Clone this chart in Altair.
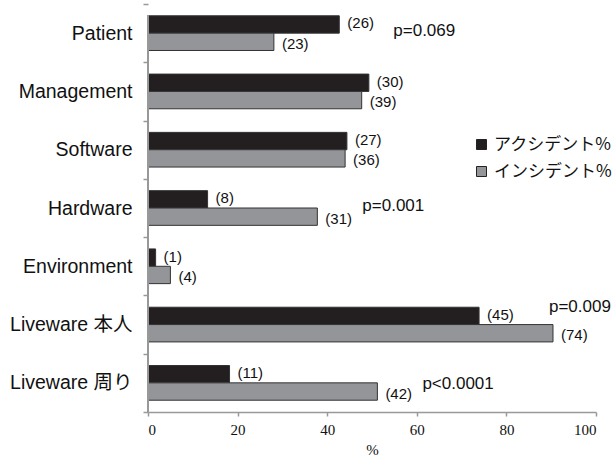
import altair as alt
import pandas as pd

categories = ["Patient", "Management", "Software", "Hardware", "Environment",
              "Liveware 本人", "Liveware 周り"]
series = ["アクシデント%", "インシデント%"]
accident_pct = [42.7, 49.3, 44.4, 13.3, 1.7, 73.9, 18.2]
incident_pct = [28.1, 47.7, 44.0, 37.8, 5.0, 90.4, 51.2]
accident_n = [26, 30, 27, 8, 1, 45, 11]
incident_n = [23, 39, 36, 31, 4, 74, 42]
p_cats = ["Patient", "Hardware", "Liveware 本人", "Liveware 周り"]
p_texts = ["p=0.069", "p=0.001", "p=0.009", "p<0.0001"]

# layout (pixel offsets of p-value annotations), kept apart from data
p_offsets = [(54, -2), (45, -2), (-4, -18), (45, 1)]

rows = []
for c, a, i, na, ni in zip(categories, accident_pct, incident_pct, accident_n, incident_n):
    rows.append({"cat": c, "series": series[0], "pct": a, "lab": f"({na})"})
    rows.append({"cat": c, "series": series[1], "pct": i, "lab": f"({ni})"})
df = pd.DataFrame(rows)

pdf = pd.DataFrame({
    "cat": p_cats,
    "txt": p_texts,
    "xmax": [max(accident_pct[categories.index(c)], incident_pct[categories.index(c)]) for c in p_cats],
})

SANS = "Liberation Sans, Noto Sans CJK JP"
SERIF = "Liberation Serif"
AXIS_GRAY = "#999999"

yenc = alt.Y("cat:N", sort=categories, title=None,
             scale=alt.Scale(paddingInner=0, paddingOuter=0),
             axis=alt.Axis(tickBand="extent", labelFont=SANS, labelFontSize=19.5,
                           labelColor="#111", labelPadding=11, tickSize=5,
                           tickColor=AXIS_GRAY, tickWidth=1.5, domain=False,
                           labelLimit=200))
yoff = alt.YOffset("series:N", sort=series,
                   scale=alt.Scale(paddingInner=0, paddingOuter=0.68))
xenc = alt.X("pct:Q", title="%",
             scale=alt.Scale(domain=[0, 100], nice=False),
             axis=alt.Axis(values=[0, 20, 40, 60, 80, 100], grid=False,
                           labelFont=SERIF, labelFontSize=15, labelColor="#111",
                           titleFont=SERIF, titleFontSize=15, titleFontWeight="normal",
                           titleColor="#111", tickSize=4, tickColor=AXIS_GRAY, tickWidth=1.5,
                           domainColor=AXIS_GRAY, domainWidth=1.5,
                           labelPadding=6, titlePadding=5))

bars = alt.Chart(df).mark_bar(stroke="#333", strokeWidth=1).encode(
    y=yenc, yOffset=yoff, x=xenc,
    color=alt.Color("series:N", sort=series,
                    scale=alt.Scale(domain=series, range=["#231f20", "#939598"]),
                    legend=alt.Legend(title=None, orient="none", legendX=325, legendY=132,
                                      symbolType="square", symbolSize=100,
                                      symbolStrokeColor="#222", symbolStrokeWidth=1,
                                      labelFont="Noto Sans CJK JP", labelFontSize=17,
                                      labelColor="#111", rowPadding=9, labelOffset=4,
                                      symbolOffset=0)),
)

yaxis_line = alt.Chart(df).mark_rule(color=AXIS_GRAY, strokeWidth=1.5).encode(
    x=alt.value(0), y=alt.value(11), y2=alt.value(408)
)

lab_a = alt.Chart(df[df.series == series[0]]).mark_text(
    align="left", baseline="middle", dx=8, dy=-1, font=SANS, fontSize=15, color="#111"
).encode(y=alt.Y("cat:N", sort=categories), yOffset=yoff, x="pct:Q", text="lab:N")
lab_i = alt.Chart(df[df.series == series[1]]).mark_text(
    align="left", baseline="middle", dx=8, dy=2, font=SANS, fontSize=15, color="#111"
).encode(y=alt.Y("cat:N", sort=categories), yOffset=yoff, x="pct:Q", text="lab:N")

layers = [bars, yaxis_line, lab_a, lab_i]
for k, (dx, dy) in enumerate(p_offsets):
    layers.append(
        alt.Chart(pdf.iloc[[k]]).mark_text(
            align="left", baseline="middle", dx=dx, dy=dy, font=SANS, fontSize=17, color="#111"
        ).encode(y=alt.Y("cat:N", sort=categories), x=alt.X("xmax:Q"), text="txt:N")
    )

chart = alt.layer(*layers).properties(
    width=448, height=408,
    padding={"left": 148, "top": 4, "right": 18, "bottom": 46},
    autosize=alt.AutoSizeParams(type="none"),
    background="white",
).configure_view(stroke=None)

chart.save("out.html", embed_options={"renderer": "svg", "actions": False})
